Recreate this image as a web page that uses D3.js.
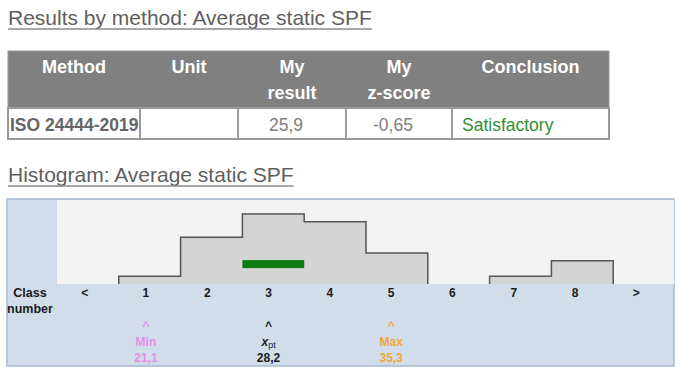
<!DOCTYPE html>
<html lang="en">
<head>
<meta charset="UTF-8">
<title>Results by method: Average static SPF</title>
<script src="https://d3js.org/d3.v7.min.js"></script>
<style>
    body { margin: 0; background: #fff; }
    svg { display: block; font-family: Arial, "Liberation Sans", sans-serif; }
</style>
</head>
<body>
<svg id="chart" width="680" height="372"></svg>
<script>
// table content
const tableHeaders = [["Method"], ["Unit"], ["My", "result"], ["My", "z-score"], ["Conclusion"]];
const tableRow = ["ISO 24444-2019", "", "25,9", "-0,65", "Satisfactory"];

// histogram content
const classLabels = ["<", "1", "2", "3", "4", "5", "6", "7", "8", ">"];
const classCounts = [0, 1, 6, 9, 8, 4, 0, 1, 3, 0];
const myResultClass = "3";
const myResultLevel = 2.56;

// markers under the axis
const markerClasses = ["1", "3", "5"];
const markerNames = ["Min", "x", "Max"];
const markerValues = ["21,1", "28,2", "35,3"];
const markerColors = ["#e48ee6", "#1a1a1a", "#f0a83c"];

const svg = d3.select("#chart");
const titleColor = "#5f5f5f";

// section titles with underline
function addTitle(txt, y) {
    const t = svg.append("text")
        .attr("x", 8).attr("y", y)
        .attr("font-size", 21)
        .attr("fill", titleColor)
        .text(txt);
    const w = t.node().getComputedTextLength();
    svg.append("line")
        .attr("x1", 8).attr("x2", 8 + w)
        .attr("y1", y + 4).attr("y2", y + 4)
        .attr("stroke", "#8a8a8a").attr("stroke-width", 1.5);
}
addTitle("Results by method: Average static SPF", 25);
addTitle("Histogram: Average static SPF", 182);

// ---- table ----
const colEdges = [8, 140, 238, 346, 452, 609];
const headTop = 51, headBottom = 108, rowBottom = 139;

svg.append("rect")
    .attr("x", colEdges[0]).attr("y", headTop)
    .attr("width", colEdges[5] - colEdges[0]).attr("height", headBottom - headTop)
    .attr("fill", "#808080").attr("stroke", "#9a9a9a");

svg.append("rect")
    .attr("x", colEdges[0]).attr("y", headBottom)
    .attr("width", colEdges[5] - colEdges[0]).attr("height", rowBottom - headBottom)
    .attr("fill", "#fff").attr("stroke", "#9a9a9a").attr("stroke-width", 2);

colEdges.slice(1, 5).forEach(x => {
    svg.append("line")
        .attr("x1", x).attr("x2", x)
        .attr("y1", headBottom).attr("y2", rowBottom)
        .attr("stroke", "#9a9a9a").attr("stroke-width", 2);
});

tableHeaders.forEach((lines, i) => {
    const cx = (colEdges[i] + colEdges[i + 1]) / 2;
    lines.forEach((ln, j) => {
        svg.append("text")
            .attr("x", cx).attr("y", 73 + j * 26)
            .attr("text-anchor", "middle")
            .attr("font-size", 18).attr("font-weight", "bold")
            .attr("fill", "#fff")
            .text(ln);
    });
});

// data row
svg.append("text")
    .attr("x", 10).attr("y", 131)
    .attr("font-size", 17.5).attr("font-weight", "bold")
    .attr("fill", "#666")
    .text(tableRow[0]);
[2, 3].forEach(i => {
    svg.append("text")
        .attr("x", (colEdges[i] + colEdges[i + 1]) / 2 - 6).attr("y", 131)
        .attr("text-anchor", "middle")
        .attr("font-size", 17.5)
        .attr("fill", "#808080")
        .text(tableRow[i]);
});
svg.append("text")
    .attr("x", colEdges[4] + 10).attr("y", 131)
    .attr("font-size", 17.5)
    .attr("fill", "#2f8f2f")
    .text(tableRow[4]);

// ---- histogram ----
const box = { left: 7, top: 199, right: 674, bottom: 366 };
const plot = { left: 57, top: 200, right: 674, bottom: 284 };

svg.append("rect")
    .attr("x", box.left).attr("y", box.top)
    .attr("width", box.right - box.left).attr("height", box.bottom - box.top)
    .attr("fill", "#d2ddec").attr("stroke", "#a7b9d4").attr("stroke-width", 1.5);

svg.append("rect")
    .attr("x", plot.left).attr("y", plot.top)
    .attr("width", plot.right - plot.left).attr("height", plot.bottom - plot.top)
    .attr("fill", "#f3f3f3");

const x = d3.scaleBand().domain(classLabels).range([57, 675]).padding(0);
const xLab = d3.scaleBand().domain(classLabels).range([54, 667]).padding(0);
const y = d3.scaleLinear().domain([0, 10.8]).range([plot.bottom, plot.top]);

const bins = classLabels.map((c, i) => ({ c: c, n: classCounts[i] }));

svg.selectAll(".bar").data(bins.filter(d => d.n > 0)).enter().append("rect")
    .attr("class", "bar")
    .attr("x", d => x(d.c)).attr("y", d => y(d.n))
    .attr("width", x.bandwidth()).attr("height", d => y(0) - y(d.n))
    .attr("fill", "#d4d4d4")
    .attr("shape-rendering", "crispEdges");

// step outline over each run of non-empty classes
const runs = [];
let cur = null;
bins.forEach(d => {
    if (d.n > 0) { if (!cur) { cur = []; runs.push(cur); } cur.push(d); }
    else cur = null;
});
svg.selectAll(".edge").data(runs).enter().append("path")
    .attr("class", "edge")
    .attr("d", run => {
        let p = `M${x(run[0].c)},${y(0)}`;
        run.forEach(d => { p += `V${y(d.n)}H${x(d.c) + x.bandwidth()}`; });
        return p + `V${y(0)}`;
    })
    .attr("fill", "none").attr("stroke", "#555").attr("stroke-width", 1.5);

// my result marker
svg.append("rect")
    .attr("x", x(myResultClass)).attr("y", y(myResultLevel) - 4)
    .attr("width", x.bandwidth()).attr("height", 8)
    .attr("fill", "#0b7d12");

// class numbers
svg.selectAll(".cls").data(classLabels).enter().append("text")
    .attr("class", "cls")
    .attr("x", d => xLab(d) + xLab.bandwidth() / 2).attr("y", 297)
    .attr("text-anchor", "middle")
    .attr("font-size", 12).attr("font-weight", "bold")
    .attr("fill", "#1a1a1a")
    .text(d => d);

["Class", "number"].forEach((t, i) => {
    svg.append("text")
        .attr("x", 30).attr("y", 297 + i * 16)
        .attr("text-anchor", "middle")
        .attr("font-size", 12.5).attr("font-weight", "bold")
        .attr("fill", "#1a1a1a")
        .text(t);
});

// Min / x_pt / Max
markerClasses.forEach((c, i) => {
    const cx = xLab(c) + xLab.bandwidth() / 2;
    const col = markerColors[i];
    svg.append("text")
        .attr("x", cx).attr("y", 330)
        .attr("text-anchor", "middle")
        .attr("font-size", 12).attr("font-weight", "bold")
        .attr("fill", col).text("^");
    const nm = svg.append("text")
        .attr("x", cx).attr("y", 346)
        .attr("text-anchor", "middle")
        .attr("font-size", 12).attr("font-weight", "bold")
        .attr("fill", col);
    if (markerNames[i] === "x") {
        nm.append("tspan").attr("font-style", "italic").text("x");
        nm.append("tspan").attr("font-size", 9).attr("font-weight", "normal")
            .attr("dy", 2).text("pt");
    } else {
        nm.text(markerNames[i]);
    }
    svg.append("text")
        .attr("x", cx).attr("y", 362)
        .attr("text-anchor", "middle")
        .attr("font-size", 12).attr("font-weight", "bold")
        .attr("fill", col).text(markerValues[i]);
});
</script>
</body>
</html>
